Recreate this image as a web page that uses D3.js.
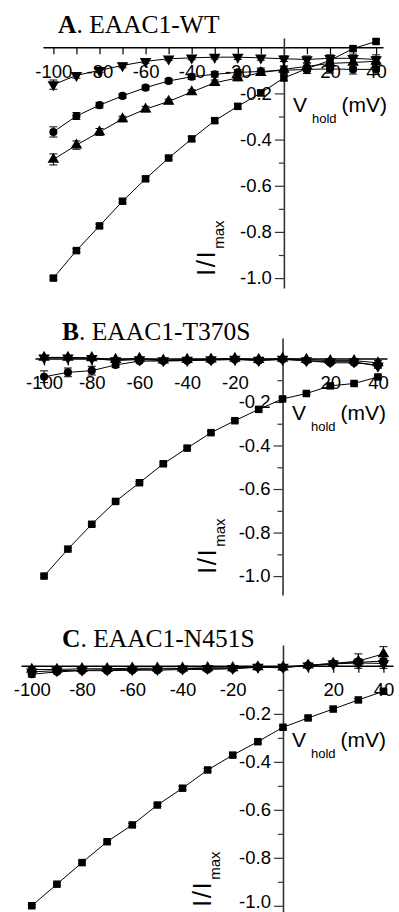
<!DOCTYPE html>
<html>
<head>
<meta charset="utf-8">
<script src="https://cdn.jsdelivr.net/npm/d3@7"></script>
<style>
  html, body { margin: 0; padding: 0; background: #fff; }
  svg { display: block; }
</style>
</head>
<body>
<svg id="chart" width="399" height="912"></svg>
<script>
// ---------- DATA ----------
const voltages = [-100, -90, -80, -70, -60, -50, -40, -30, -20, -10, 0, 10, 20, 30, 40];
const xTickLabels = [-100, -80, -60, -40, -20, 20, 40];
const xMinorTicks = [-100, -90, -80, -70, -60, -50, -40, -30, -20, -10, 0, 10, 20, 30, 40];
const yTickLabels = [-0.2, -0.4, -0.6, -0.8, -1.0];
const yMinorTicks = [-0.1, -0.3, -0.5, -0.7, -0.9];
const panelTitles = ["A", "B", "C"];
const panelNames = [". EAAC1-WT", ". EAAC1-T370S", ". EAAC1-N451S"];
const seriesSymbols = ["square", "circle", "triangleUp", "triangleDown"];

// Panel A: EAAC1-WT
const wtSquare = [-1.0, -0.881, -0.774, -0.667, -0.570, -0.480, -0.397, -0.318, -0.256, -0.198, -0.133, -0.093, -0.057, -0.006, 0.025];
const wtCircle = [-0.367, -0.298, -0.251, -0.211, -0.175, -0.146, -0.128, -0.117, -0.109, -0.105, -0.100, -0.096, -0.094, -0.096, -0.096];
const wtUp = [-0.486, -0.424, -0.367, -0.311, -0.268, -0.235, -0.194, -0.154, -0.133, -0.110, -0.096, -0.083, -0.070, -0.066, -0.061];
const wtDown = [-0.162, -0.122, -0.100, -0.079, -0.061, -0.050, -0.046, -0.043, -0.043, -0.046, -0.050, -0.053, -0.048, -0.048, -0.053];
const wtSquareErr = [0.008, 0.008, 0.008, 0.008, 0.008, 0.008, 0.01, 0.01, 0.01, 0.012, 0.012, 0.012, 0.012, 0.01, 0.008];
const wtCircleErr = [0.022, 0.015, 0.012, 0.01, 0.01, 0.01, 0.012, 0.012, 0.012, 0.015, 0.015, 0.018, 0.018, 0.02, 0.022];
const wtUpErr = [0.024, 0.018, 0.015, 0.012, 0.012, 0.01, 0.01, 0.012, 0.012, 0.012, 0.015, 0.015, 0.018, 0.02, 0.02];
const wtDownErr = [0.02, 0.012, 0.01, 0.01, 0.008, 0.008, 0.008, 0.008, 0.01, 0.01, 0.012, 0.015, 0.015, 0.018, 0.02];

// Panel B: EAAC1-T370S
const tsSquare = [-1.0, -0.876, -0.762, -0.657, -0.571, -0.484, -0.412, -0.341, -0.286, -0.234, -0.186, -0.161, -0.126, -0.115, -0.085];
const tsCircle = [-0.084, -0.064, -0.056, -0.030, -0.012, -0.012, -0.010, -0.008, -0.005, -0.010, -0.005, -0.010, -0.020, -0.020, -0.030];
const tsUp = [0.005, 0.005, 0.003, -0.005, 0.0, -0.008, -0.005, -0.003, 0.0, -0.005, 0.0, -0.005, -0.010, -0.010, -0.020];
const tsDown = [0.003, 0.003, 0.0, -0.010, -0.005, -0.010, -0.008, -0.005, -0.003, -0.008, -0.003, -0.010, -0.015, -0.015, -0.035];
const tsSquareErr = [0.006, 0.006, 0.006, 0.006, 0.006, 0.006, 0.006, 0.006, 0.006, 0.006, 0.006, 0.006, 0.006, 0.006, 0.006];
const tsCircleErr = [0.027, 0.02, 0.02, 0.012, 0.008, 0.006, 0.006, 0.006, 0.006, 0.006, 0.006, 0.006, 0.008, 0.008, 0.01];
const tsUpErr = [0.006, 0.006, 0.006, 0.006, 0.006, 0.006, 0.006, 0.006, 0.006, 0.006, 0.006, 0.006, 0.008, 0.008, 0.01];
const tsDownErr = [0.006, 0.006, 0.006, 0.006, 0.006, 0.006, 0.006, 0.006, 0.006, 0.006, 0.006, 0.006, 0.008, 0.008, 0.01];

// Panel C: EAAC1-N451S
const nsSquare = [-1.0, -0.910, -0.820, -0.733, -0.663, -0.580, -0.510, -0.434, -0.372, -0.316, -0.256, -0.217, -0.180, -0.142, -0.106];
const nsCircle = [-0.035, -0.025, -0.020, -0.020, -0.018, -0.018, -0.015, -0.015, -0.012, -0.006, -0.008, 0.002, 0.010, 0.015, 0.020];
const nsUp = [-0.015, -0.015, -0.012, -0.012, -0.010, -0.010, -0.010, -0.008, -0.008, -0.004, -0.005, 0.003, 0.010, 0.020, 0.050];
const nsDown = [-0.025, -0.020, -0.018, -0.016, -0.015, -0.014, -0.012, -0.010, -0.010, -0.005, -0.005, 0.0, 0.008, 0.012, 0.010];
const nsSquareErr = [0.006, 0.006, 0.006, 0.006, 0.006, 0.006, 0.006, 0.006, 0.006, 0.006, 0.006, 0.006, 0.006, 0.006, 0.006];
const nsCircleErr = [0.012, 0.008, 0.006, 0.006, 0.006, 0.006, 0.006, 0.006, 0.006, 0.006, 0.006, 0.006, 0.01, 0.015, 0.02];
const nsUpErr = [0.008, 0.006, 0.006, 0.006, 0.006, 0.006, 0.006, 0.006, 0.006, 0.006, 0.006, 0.006, 0.01, 0.03, 0.03];
const nsDownErr = [0.008, 0.006, 0.006, 0.006, 0.006, 0.006, 0.006, 0.006, 0.006, 0.006, 0.006, 0.006, 0.01, 0.015, 0.02];

// ---------- LAYOUT ----------
const layouts = [
  { xd: [-104.5, 43], xr: [43, 383], yd: [0.04, -1.043], yr: [38, 288],
    title: [58, 33], vlab: [293, 112], ylab: [215, 276] },
  { xd: [-103.8, 43.8], xr: [35, 387], yd: [0.094, -1.087], yr: [338, 595],
    title: [62, 340], vlab: [292, 420], ylab: [216, 574] },
  { xd: [-104.3, 43.8], xr: [21, 393], yd: [0.087, -1.026], yr: [645, 912],
    title: [62, 647], vlab: [292, 747], ylab: [211, 907] }
];

const panelData = [
  { series: [wtSquare, wtCircle, wtUp, wtDown], errs: [wtSquareErr, wtCircleErr, wtUpErr, wtDownErr] },
  { series: [tsSquare, tsCircle, tsUp, tsDown], errs: [tsSquareErr, tsCircleErr, tsUpErr, tsDownErr] },
  { series: [nsSquare, nsCircle, nsUp, nsDown], errs: [nsSquareErr, nsCircleErr, nsUpErr, nsDownErr] }
];

const svg = d3.select("#chart");
const tickFont = "'Liberation Sans', Arial, sans-serif";
const serifFont = "'Liberation Serif', 'Times New Roman', serif";

function symbolPath(kind) {
  if (kind === "square") return d3.symbol(d3.symbolSquare, 56)();
  if (kind === "circle") return d3.symbol(d3.symbolCircle, 52)();
  return d3.symbol(d3.symbolTriangle, 58)();
}

layouts.forEach((L, pi) => {
  const g = svg.append("g");
  const x = d3.scaleLinear().domain(L.xd).range(L.xr);
  const y = d3.scaleLinear().domain(L.yd).range(L.yr);
  const x0 = x(0), y0 = y(0);

  // Title
  const t = g.append("text")
    .attr("x", L.title[0]).attr("y", L.title[1])
    .attr("font-family", serifFont).attr("font-size", 25.5).attr("fill", "#000");
  t.append("tspan").attr("font-weight", "bold").text(panelTitles[pi]);
  t.append("tspan").text(panelNames[pi]);

  // X axis (ticks every 10, labels at selected values)
  const xAxis = d3.axisBottom(x)
    .tickValues(xMinorTicks)
    .tickSize(7).tickSizeOuter(0)
    .tickFormat(v => xTickLabels.includes(v) ? String(v) : "");
  const xg = g.append("g").attr("transform", `translate(0,${y0})`).call(xAxis);
  xg.select(".domain").attr("stroke", "#000").attr("stroke-width", 1.5);
  xg.selectAll(".tick line").attr("stroke", "#000").attr("stroke-width", 1.2);
  xg.selectAll(".tick text")
    .attr("font-family", tickFont).attr("font-size", 18.5).attr("fill", "#000")
    .attr("y", 30.5).attr("dy", null);

  // Y axis minor ticks
  const yMinor = d3.axisLeft(y).tickValues(yMinorTicks).tickSize(5).tickSizeOuter(0).tickFormat("");
  const ymg = g.append("g").attr("transform", `translate(${x0},0)`).call(yMinor);
  ymg.select(".domain").remove();
  ymg.selectAll(".tick line").attr("stroke", "#333").attr("stroke-width", 1.2);

  // Y axis major ticks
  const yAxis = d3.axisLeft(y).tickValues(yTickLabels).tickSize(9).tickPadding(3)
    .tickSizeOuter(0).tickFormat(v => v.toFixed(1));
  const yg = g.append("g").attr("transform", `translate(${x0},0)`).call(yAxis);
  yg.select(".domain").attr("stroke", "#333").attr("stroke-width", 1.6);
  yg.selectAll(".tick line").attr("stroke", "#333").attr("stroke-width", 1.2);
  yg.selectAll(".tick text")
    .attr("font-family", tickFont).attr("font-size", 18.5).attr("fill", "#000")
    .attr("dy", "0.32em");
  // keep the lowest label inside the canvas
  yg.selectAll(".tick text").each(function () {
    const bb = this.getBBox();
    const ty = y(d3.select(this.parentNode).datum());
    const over = ty + bb.y + bb.height - 911.5;
    if (over > 0) d3.select(this).attr("y", -over);
  });

  // Axis label: V hold (mV)
  const vt = g.append("text").attr("x", L.vlab[0]).attr("y", L.vlab[1])
    .attr("font-family", tickFont).attr("font-size", 21).attr("fill", "#000");
  vt.append("tspan").text("V");
  vt.append("tspan").attr("font-size", 13).attr("dx", 5).attr("dy", 11).text("hold");
  vt.append("tspan").attr("dx", 5).attr("dy", -11).text("(mV)");

  // Y label: I/I max
  const it = g.append("text")
    .attr("transform", `translate(${L.ylab[0]},${L.ylab[1]}) rotate(-90)`)
    .attr("font-family", tickFont).attr("font-size", 26).attr("fill", "#000");
  it.append("tspan").attr("letter-spacing", 1.5).text("I/I");
  it.append("tspan").attr("font-size", 15).attr("dx", 1).attr("dy", 9).text("max");

  // Data
  const pd = panelData[pi];
  const line = d3.line().x((d, i) => x(voltages[i])).y(d => y(d));
  pd.series.forEach((vals, si) => {
    const sg = g.append("g");
    sg.append("path").datum(vals).attr("d", line)
      .attr("fill", "none").attr("stroke", "#000").attr("stroke-width", 1);
    const errs = pd.errs[si];
    vals.forEach((v, i) => {
      const xv = x(voltages[i]);
      const yt = y(v + errs[i]), yb = y(v - errs[i]);
      sg.append("line").attr("x1", xv).attr("x2", xv).attr("y1", yt).attr("y2", yb)
        .attr("stroke", "#000").attr("stroke-width", 1);
      [yt, yb].forEach(yy => sg.append("line")
        .attr("x1", xv - 4).attr("x2", xv + 4).attr("y1", yy).attr("y2", yy)
        .attr("stroke", "#000").attr("stroke-width", 1));
    });
    const kind = seriesSymbols[si];
    sg.selectAll("path.pt").data(vals).enter().append("path")
      .attr("class", "pt")
      .attr("d", symbolPath(kind))
      .attr("transform", (d, i) => `translate(${x(voltages[i])},${y(d)})${kind === "triangleDown" ? " rotate(180)" : ""}`)
      .attr("fill", "#000");
  });
});
</script>
</body>
</html>
